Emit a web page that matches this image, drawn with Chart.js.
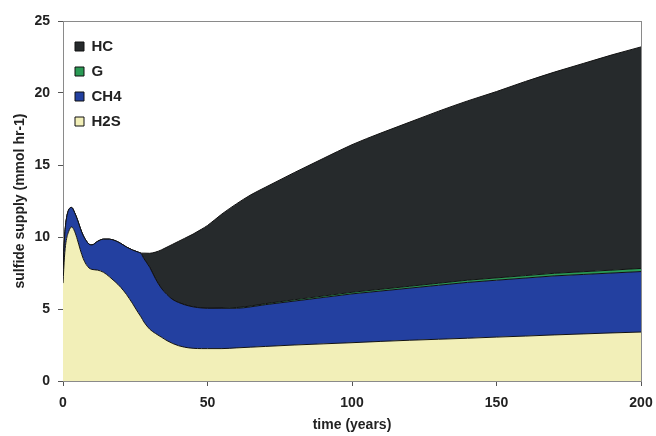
<!DOCTYPE html>
<html>
<head>
<meta charset="utf-8">
<script src="https://cdn.jsdelivr.net/npm/chart.js@4/dist/chart.umd.min.js"></script>
<style>
  html, body { margin: 0; padding: 0; background: #fff; }
  #wrap { width: 656px; height: 436px; }
</style>
</head>
<body>
<div id="wrap"><canvas id="chart"></canvas></div>
<script>
// time axis (years), sampled unevenly where the curves bend
const years = [0, 0.5, 1, 2, 3, 4, 5, 6, 7, 8, 9, 10, 12, 14, 16, 18, 20, 22, 24, 26, 27, 28, 30, 32, 34, 36, 38, 40, 42, 45, 48, 50, 55, 60, 65, 70, 80, 90, 100, 110, 120, 130, 140, 150, 160, 170, 180, 190, 200];

// layer thickness of each source (mmol hr-1), bottom to top
const h2s = [6.8, 8.6, 9.6, 10.4, 10.7, 10.4, 9.8, 9.1, 8.5, 8.1, 7.85, 7.75, 7.7, 7.55, 7.25, 6.9, 6.5, 6.0, 5.4, 4.75, 4.45, 4.1, 3.6, 3.3, 3.05, 2.8, 2.6, 2.45, 2.35, 2.27, 2.25, 2.25, 2.25, 2.3, 2.35, 2.4, 2.5, 2.58, 2.66, 2.75, 2.83, 2.9, 2.97, 3.05, 3.12, 3.2, 3.27, 3.34, 3.4];
const ch4 = [0.6, 1.2, 1.4, 1.5, 1.35, 1.3, 1.4, 1.5, 1.6, 1.65, 1.65, 1.7, 2.0, 2.3, 2.6, 2.85, 3.05, 3.3, 3.7, 4.2, 4.4, 4.4, 4.3, 3.8, 3.4, 3.2, 3.05, 3.0, 2.95, 2.88, 2.82, 2.8, 2.8, 2.75, 2.8, 2.9, 3.05, 3.22, 3.39, 3.5, 3.62, 3.75, 3.88, 3.95, 4.03, 4.1, 4.13, 4.16, 4.2];
const g = [0, 0, 0, 0, 0, 0, 0, 0, 0, 0, 0, 0, 0, 0, 0, 0, 0, 0, 0, 0, 0, 0, 0, 0, 0, 0, 0, 0, 0, 0, 0, 0, 0.02, 0.05, 0.06, 0.07, 0.09, 0.1, 0.11, 0.12, 0.13, 0.14, 0.15, 0.16, 0.17, 0.18, 0.19, 0.2, 0.22];
const hc = [0, 0, 0, 0, 0, 0, 0, 0, 0, 0, 0, 0, 0, 0, 0, 0, 0, 0, 0, 0, 0.03, 0.38, 0.97, 1.85, 2.65, 3.3, 3.85, 4.25, 4.6, 5.05, 5.48, 5.75, 6.53, 7.2, 7.72, 8.08, 8.83, 9.55, 10.25, 10.85, 11.4, 11.95, 12.45, 12.94, 13.48, 13.97, 14.46, 14.95, 15.38];

const xTicks = [0, 50, 100, 150, 200];
const yTicks = [0, 5, 10, 15, 20, 25];

const FONT = '"Liberation Sans", Arial, sans-serif';

const pts = arr => arr.map((v, i) => ({ x: years[i], y: v }));

function layer(label, values, fillColor, fill) {
    return {
        label,
        data: pts(values),
        backgroundColor: fillColor,
        borderColor: '#111',
        borderWidth: 1,
        pointRadius: 0,
        fill,
        cubicInterpolationMode: 'monotone',
    };
}

// grey box round the plot area (top + right edges in the original)
const frame = {
    id: 'frame',
    beforeDatasetsDraw(chart) {
        const { ctx, chartArea: a } = chart;
        ctx.save();
        ctx.strokeStyle = '#8a8a8a';
        ctx.lineWidth = 1;
        ctx.strokeRect(a.left + 0.5, a.top + 0.5, a.right - a.left, a.bottom - a.top);
        ctx.restore();
    },
    beforeDraw(chart) {
        // put the in-plot legend where the original has it
        const lg = chart.legend;
        if (lg) { lg.left = chart.chartArea.left + 2; lg.top = chart.chartArea.top + 8; }
    }
};

new Chart(document.getElementById('chart'), {
    type: 'line',
    data: {
        datasets: [
            layer('H2S', h2s, '#f2efb8', 'origin'),
            layer('CH4', ch4, '#2340a0', '-1'),
            layer('G', g, '#2a9a55', '-1'),
            layer('HC', hc, '#262a2c', '-1'),
        ]
    },
    options: {
        responsive: true,
        maintainAspectRatio: false,
        animation: false,
        layout: { padding: { top: 21, right: 15, left: 0, bottom: 0 } },
        scales: {
            x: {
                type: 'linear',
                min: 0,
                max: 200,
                afterFit: s => { s.height = 55; s.paddingLeft = 0; s.paddingRight = 0; },
                afterBuildTicks: s => { s.ticks = xTicks.map(v => ({ value: v })); },
                grid: { drawOnChartArea: false, drawTicks: true, tickLength: 5, color: '#555' },
                border: { display: true, color: '#444', width: 1 },
                ticks: { color: '#222', padding: 9, font: { family: FONT, size: 14, weight: 'bold' } },
                title: {
                    display: true,
                    text: 'time (years)',
                    color: '#222',
                    padding: { top: 0, bottom: 2 },
                    font: { family: FONT, size: 14, weight: 'bold' }
                }
            },
            y: {
                stacked: true,
                min: 0,
                max: 25,
                afterFit: s => { s.width = 63; s.paddingTop = 0; s.paddingBottom = 0; },
                afterBuildTicks: s => { s.ticks = yTicks.map(v => ({ value: v })); },
                grid: { drawOnChartArea: false, drawTicks: true, tickLength: 5, color: '#555' },
                border: { display: true, color: '#444', width: 1 },
                ticks: { color: '#222', padding: 8, font: { family: FONT, size: 14, weight: 'bold' } },
                title: {
                    display: true,
                    text: 'sulfide supply (mmol hr-1)',
                    color: '#222',
                    padding: { top: 12, bottom: 0 },
                    font: { family: FONT, size: 14, weight: 'bold' }
                }
            }
        },
        plugins: {
            legend: {
                position: 'chartArea',
                align: 'start',
                reverse: true,
                labels: {
                    boxWidth: 9,
                    boxHeight: 9,
                    padding: 10,
                    color: '#222',
                    font: { family: FONT, size: 15, weight: 'bold' }
                }
            },
            tooltip: { enabled: false }
        }
    },
    plugins: [frame]
});
</script>
</body>
</html>
